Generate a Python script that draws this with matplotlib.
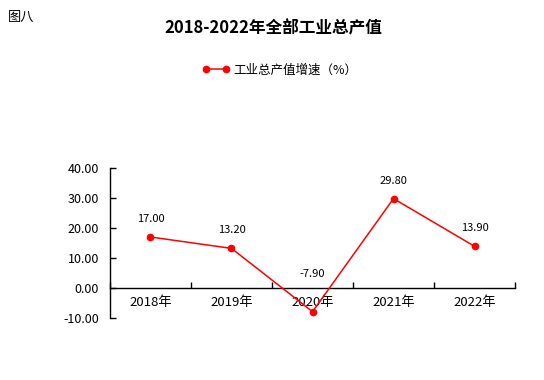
import matplotlib
matplotlib.use("Agg")
import matplotlib.pyplot as plt

plt.rcParams['font.family'] = ['Noto Sans CJK SC', 'DejaVu Sans']

# data
years = ["2018年", "2019年", "2020年", "2021年", "2022年"]
growth = [17.00, 13.20, -7.90, 29.80, 13.90]
y_ticks = [-10, 0, 10, 20, 30, 40]

# label offsets (points above marker), the negative one sits above the axis
label_dy = [13, 13, 27, 13, 13]

fig = plt.figure(figsize=(5.44, 3.8), dpi=100)
ax = fig.add_axes([0.2022, 0.1632, 0.7445, 0.3947])

x = list(range(len(years)))
line, = ax.plot(x, growth, color="#FF0000", lw=1.1, marker="o", ms=4.5,
                label="工业总产值增速（%）", clip_on=False, zorder=3)

for xi, v, dy in zip(x, growth, label_dy):
    ax.annotate(f"{v:.2f}", (xi, v), xytext=(0, dy), textcoords="offset points",
                ha="center", va="center", fontsize=8)

ax.set_xlim(-0.5, len(years) - 0.5)
ax.set_ylim(-10, 40)
ax.set_yticks(y_ticks)
ax.set_yticklabels([f"{t:.2f}" for t in y_ticks], fontsize=9)

# category axis sits on zero line
ax.spines['top'].set_visible(False)
ax.spines['right'].set_visible(False)
ax.spines['bottom'].set_position(('data', 0))
ax.set_xticks([i - 0.5 for i in range(len(years) + 1)])
ax.set_xticklabels([])
ax.set_xticks(x, minor=True)
ax.set_xticklabels(years, minor=True, fontsize=9.5)
ax.tick_params(axis='x', which='major', direction='in', length=4, width=1)
ax.tick_params(axis='x', which='minor', length=0, pad=6)
ax.tick_params(axis='y', direction='in', length=4, width=1, pad=8)
for s in ['left', 'bottom']:
    ax.spines[s].set_linewidth(1)

fig.text(0.015, 0.955, "图八", fontsize=9.5, ha="left", va="center")
fig.text(0.502, 0.925, "2018-2022年全部工业总产值", fontsize=12, ha="center",
         va="center", fontweight="bold")
fig.legend(handles=[line], loc="center", bbox_to_anchor=(0.514, 0.816),
           frameon=False, fontsize=9, numpoints=2, handlelength=2.2,
           handletextpad=0.3)

fig.savefig("out.png", dpi=100)
